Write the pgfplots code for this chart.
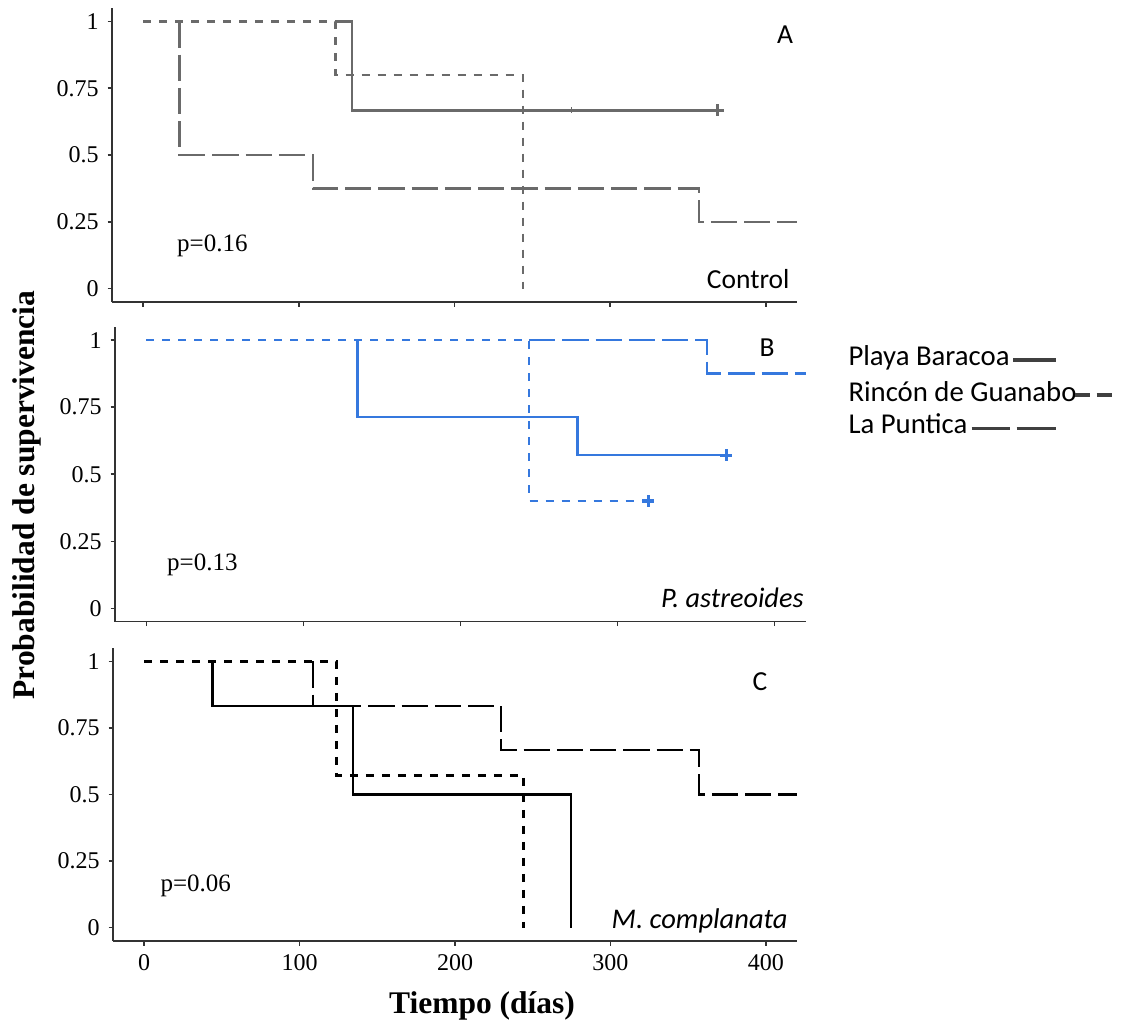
\documentclass[border=0pt]{standalone}
\usepackage{pgfplots}
\pgfplotsset{compat=1.18}
\usepackage{fontspec}
\setmainfont{Liberation Serif}
\newfontfamily\calfont{Carlito}

\definecolor{kmgray}{HTML}{6A6A6A}
\definecolor{kmblue}{HTML}{3578DE}
\definecolor{axgray}{HTML}{333333}
\definecolor{leggray}{HTML}{404040}

\pgfplotsset{
  km/.style={
    scale only axis,
    anchor=south west,
    axis lines=left,
    axis line style={-, axgray, line width=0.6pt},
    xmin=-20, xmax=420, ymin=-0.05, ymax=1.05,
    ytick={0,0.25,0.5,0.75,1},
    yticklabels={0,0.25,0.5,0.75,1},
    xtick={0,100,200,300,400},
    tick align=outside,
    major tick length=1.8pt,
    tick style={axgray, line width=0.6pt},
    every tick label/.append style={font=\fontsize{9.6}{10}\selectfont, text=black},
    /pgf/number format/assume math mode=true,
  },
  solidS/.style={line width=1pt, const plot},
  dotS/.style={line width=1pt, const plot, dash pattern=on 3.2pt off 3.2pt},
  longS/.style={line width=1pt, const plot, dash pattern=on 10.5pt off 2.8pt},
  cens/.style={only marks, mark=+, mark size=2.4pt, line width=1.3pt},
}

\begin{document}
\begin{tikzpicture}[x=0.4pt, y=-0.4pt]
\useasboundingbox (0,0) rectangle (1125,1021);

% Panel A
\begin{axis}[km, at={(44.8pt,-120.8pt)}, width=274pt, height=117.6pt, xticklabels={}]
\addplot[kmgray, longS] coordinates {(23.5,1)(23.5,0.5)(109,0.375)(357,0.25)(420,0.25)};
\addplot[kmgray, solidS] coordinates {(123.5,1)(134,0.667)(369,0.667)};
\addplot[kmgray, cens] coordinates {(369,0.667)};
\addplot[kmgray, only marks, mark=|, mark size=1.2pt, line width=0.4pt] coordinates {(275,0.667)};
\addplot[kmgray, dotS] coordinates {(0,1)(123.5,0.8)(244,0)};
\end{axis}

% Panel B
\begin{axis}[km, at={(46pt,-248.68pt)}, width=276.4pt, height=118pt, xticklabels={}]
\addplot[kmblue, longS] coordinates {(243.7,1)(357,0.875)(420,0.875)};
\addplot[kmblue, solidS] coordinates {(134.5,1)(134.5,0.714)(274.6,0.571)(369.3,0.571)};
\addplot[kmblue, cens] coordinates {(369.3,0.571)};
\addplot[kmblue, dotS] coordinates {(0,1)(243.7,0.4)(319.5,0.4)};
\addplot[kmblue, cens] coordinates {(319.5,0.4)};
\end{axis}

% Panel C
\begin{axis}[km, at={(45.2pt,-376.4pt)}, width=273.6pt, height=117.2pt]
\addplot[black, longS] coordinates {(108.7,1)(108.7,0.833)(229.7,0.667)(357,0.5)(420,0.5)};
\addplot[black, solidS] coordinates {(44,1)(44,0.833)(134.4,0.5)(274.7,0)};
\addplot[black, dotS] coordinates {(0,1)(123.8,0.571)(244.1,0)};
\end{axis}

% panel annotations
\node[font=\calfont\fontsize{11}{13}\selectfont] at (785,35) {A};
\node[font=\calfont\fontsize{11}{13}\selectfont] at (767,348) {B};
\node[font=\calfont\fontsize{11}{13}\selectfont] at (760,682) {C};
\node[anchor=base east, inner sep=0pt, font=\calfont\fontsize{11}{13}\selectfont] at (790,288) {Control};
\node[anchor=base east, inner sep=0pt, font=\calfont\itshape\fontsize{11.3}{13}\selectfont] at (804,607) {P. astreoides};
\node[anchor=base east, inner sep=0pt, font=\calfont\itshape\fontsize{11.4}{13}\selectfont] at (788,928) {M. complanata};
\node[anchor=base west, inner sep=0pt, font=\fontsize{10}{12}\selectfont] at (176.7,251) {p=0.16};
\node[anchor=base west, inner sep=0pt, font=\fontsize{10}{12}\selectfont] at (166.7,570) {p=0.13};
\node[anchor=base west, inner sep=0pt, font=\fontsize{10}{12}\selectfont] at (160,891) {p=0.06};

% axis titles
\node[rotate=90, font=\bfseries\fontsize{12.6}{14}\selectfont] at (27,495) {Probabilidad de supervivencia};
\node[anchor=base, inner sep=0pt, font=\bfseries\fontsize{12.6}{14}\selectfont] at (482,1013) {Tiempo (días)};

% legend
\node[anchor=base west, inner sep=0pt, font=\calfont\fontsize{11.5}{13}\selectfont] at (848,365) {Playa Baracoa};
\draw[leggray, line width=1.4pt] (1013,360) -- (1055.7,360);
\node[anchor=base west, inner sep=0pt, font=\calfont\fontsize{11.5}{13}\selectfont] at (848,401.7) {Rincón de Guanabo};
\draw[leggray, line width=1.4pt] (1075,395) -- (1090,395);
\draw[leggray, line width=1.4pt] (1096.7,395) -- (1111.7,395);
\node[anchor=base west, inner sep=0pt, font=\calfont\fontsize{11.5}{13}\selectfont] at (848,433.3) {La Puntica};
\draw[leggray, line width=1.4pt] (971.7,428.3) -- (1010,428.3);
\draw[leggray, line width=1.4pt] (1016.7,428.3) -- (1055.7,428.3);
\end{tikzpicture}
\end{document}
